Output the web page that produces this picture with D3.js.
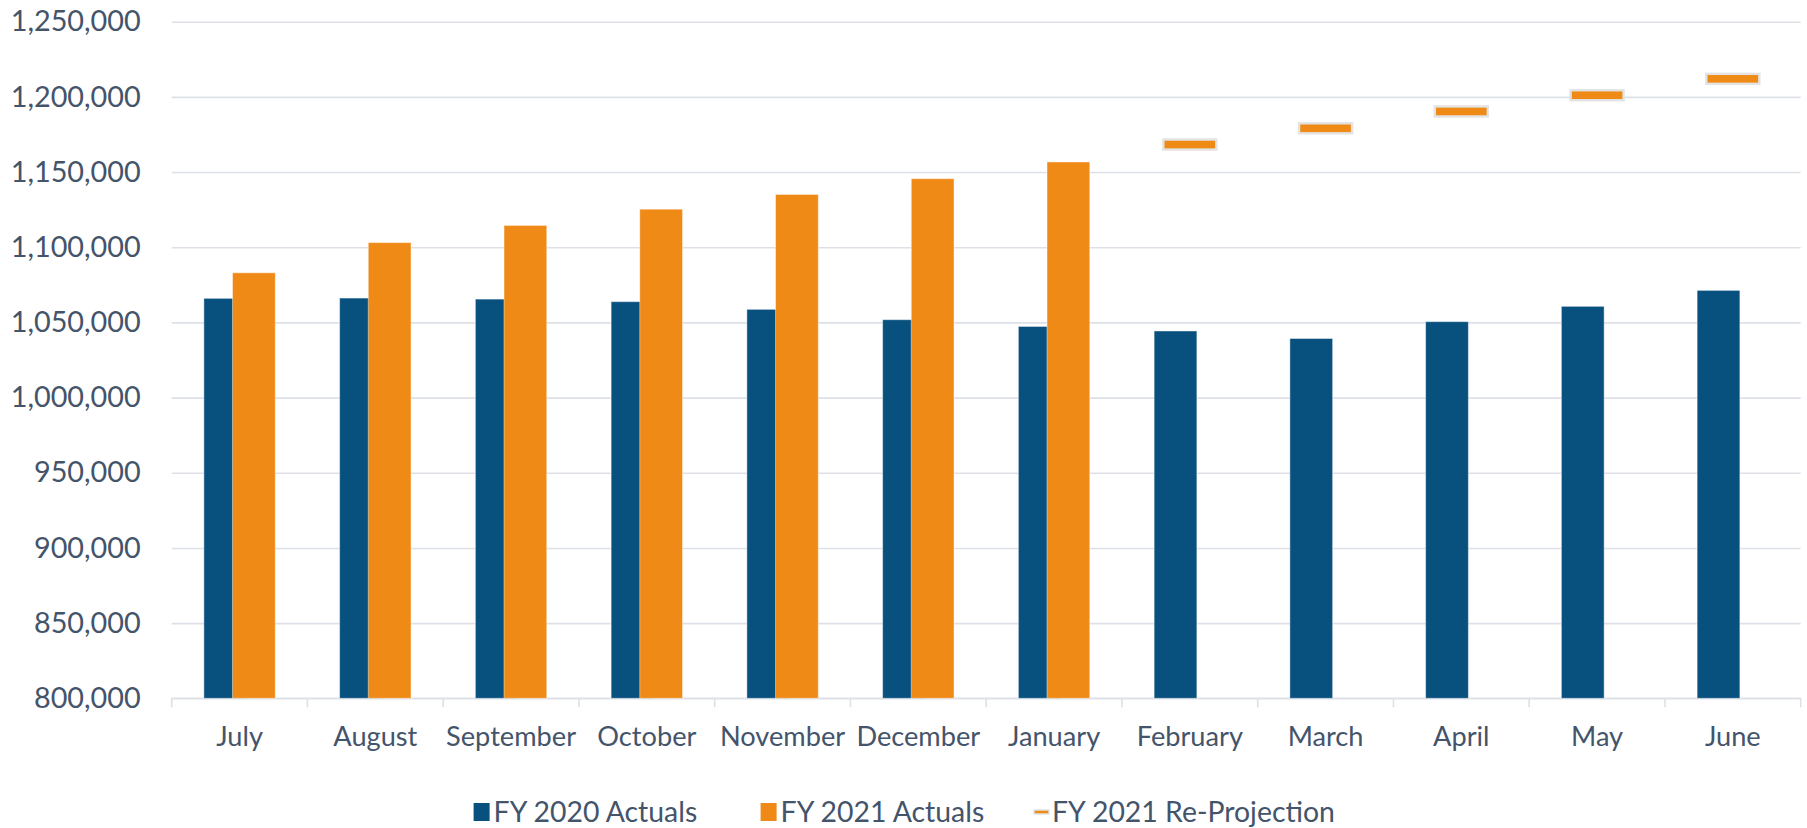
<!DOCTYPE html>
<html>
<head>
<meta charset="utf-8">
<script src="https://cdn.jsdelivr.net/npm/d3@7"></script>
<style>
  body { margin: 0; background: #ffffff; }
  svg text { font-family: Lato, "Open Sans", sans-serif; fill: #44546a; }
</style>
</head>
<body>
<svg id="chart" width="1807" height="828"></svg>
<script>
// Monthly values, fiscal year July–June
const months = ["July", "August", "September", "October", "November", "December",
                "January", "February", "March", "April", "May", "June"];
const fy2020Actuals = [1066000, 1066200, 1065500, 1063800, 1058700, 1051800,
                       1047300, 1044300, 1039300, 1050500, 1060700, 1071300];
const fy2021Actuals = [1083000, 1103100, 1114500, 1125300, 1135100, 1145600,
                       1156700, null, null, null, null, null];
const fy2021Reprojection = [null, null, null, null, null, null,
                            null, 1168300, 1179100, 1190300, 1201100, 1212000];
const yTickValues = [800000, 850000, 900000, 950000, 1000000, 1050000,
                     1100000, 1150000, 1200000, 1250000];
const legendLabels = ["FY 2020 Actuals", "FY 2021 Actuals", "FY 2021 Re-Projection"];

const COLOR_BLUE = "#08507e";
const COLOR_ORANGE = "#ef8a17";
const GRID = "#dde1e7";
const Y_FONT = 28.8;
const X_FONT = 27.2;
const LEGEND_FONT = 28.4;

const svg = d3.select("#chart");
const plotLeft = 171.7, plotRight = 1800.7, plotTop = 21.7, plotBottom = 698.3;

const x = d3.scaleBand().domain(months).range([plotLeft, plotRight]).padding(0);
const y = d3.scaleLinear().domain([800000, 1250000]).range([plotBottom, plotTop]);

// Gridlines and y labels
const yAxis = d3.axisLeft(y)
  .tickValues(yTickValues)
  .tickFormat(d3.format(","))
  .tickSizeInner(-(plotRight - plotLeft))
  .tickSizeOuter(0)
  .tickPadding(31);

const gy = svg.append("g")
  .attr("transform", `translate(${plotLeft},0)`)
  .call(yAxis);
gy.select(".domain").remove();
gy.selectAll(".tick line").attr("stroke", GRID).attr("stroke-width", 1.6);
gy.selectAll(".tick text")
  .attr("font-size", Y_FONT)
  .attr("fill", "#44546a")
  .style("font-family", "Lato, 'Open Sans', sans-serif");

// Category axis: labels centred in each band, tick marks on band edges
const xAxis = d3.axisBottom(x).tickSize(0).tickPadding(28);
const gx = svg.append("g")
  .attr("transform", `translate(0,${plotBottom})`)
  .call(xAxis);
gx.select(".domain").remove();
gx.selectAll(".tick text")
  .attr("font-size", X_FONT)
  .attr("fill", "#44546a")
  .style("font-family", "Lato, 'Open Sans', sans-serif");

const edges = months.map(m => x(m)).concat([x(months[months.length - 1]) + x.bandwidth()]);
svg.append("g").selectAll("line")
  .data(edges)
  .join("line")
  .attr("x1", d => d).attr("x2", d => d)
  .attr("y1", plotBottom).attr("y2", plotBottom + 9)
  .attr("stroke", GRID).attr("stroke-width", 1.6);
svg.append("line")
  .attr("x1", plotLeft).attr("x2", plotRight)
  .attr("y1", plotBottom).attr("y2", plotBottom)
  .attr("stroke", GRID).attr("stroke-width", 1.6);

// Clustered bars: the FY 2021 bar overlaps the FY 2020 bar by a third
const bw = x.bandwidth();
const barW = bw * 0.315;
const shift = barW * 0.67;
const groupW = barW + shift;
const blueX = m => x(m) + (bw - groupW) / 2;
const orangeX = m => blueX(m) + shift;

svg.append("g").selectAll("rect")
  .data(months.map((m, i) => ({ m, v: fy2020Actuals[i] })))
  .join("rect")
  .attr("x", d => blueX(d.m))
  .attr("y", d => y(d.v))
  .attr("width", barW)
  .attr("height", d => plotBottom - y(d.v))
  .attr("fill", COLOR_BLUE)
  .attr("stroke", "rgba(255,255,255,0.45)")
  .attr("stroke-width", 1);

svg.append("g").selectAll("rect")
  .data(months.map((m, i) => ({ m, v: fy2021Actuals[i] })).filter(d => d.v != null))
  .join("rect")
  .attr("x", d => orangeX(d.m))
  .attr("y", d => y(d.v))
  .attr("width", barW)
  .attr("height", d => plotBottom - y(d.v))
  .attr("fill", COLOR_ORANGE)
  .attr("stroke", "rgba(255,255,255,0.45)")
  .attr("stroke-width", 1);

// Re-projection dash markers, centred in each band
const dashW = 53, dashH = 10;
svg.append("g").selectAll("rect")
  .data(months.map((m, i) => ({ m, v: fy2021Reprojection[i] })).filter(d => d.v != null))
  .join("rect")
  .attr("x", d => x(d.m) + bw / 2 - dashW / 2)
  .attr("y", d => y(d.v) - dashH / 2)
  .attr("width", dashW)
  .attr("height", dashH)
  .attr("fill", COLOR_ORANGE)
  .attr("stroke", "#e3e3e3")
  .attr("stroke-width", 2.4);

// Legend: one entry per series, symbol followed by its label
const legendY = 812;
const legendX = [473.6, 760.6, 1032];
const items = svg.append("g").selectAll("g")
  .data(legendLabels)
  .join("g")
  .attr("transform", (d, i) => `translate(${legendX[i]},0)`);
items.append("text")
  .attr("x", 20)
  .attr("y", legendY)
  .attr("dy", "0.35em")
  .attr("font-size", LEGEND_FONT)
  .text(d => d);
items.each(function (d, i) {
  const g = d3.select(this);
  if (i < 2) {
    g.append("rect")
      .attr("x", 0).attr("y", legendY - 9)
      .attr("width", 16).attr("height", 18)
      .attr("fill", i === 0 ? COLOR_BLUE : COLOR_ORANGE);
  } else {
    g.append("rect")
      .attr("x", 2).attr("y", legendY - 2)
      .attr("width", 15).attr("height", 4)
      .attr("fill", COLOR_ORANGE)
      .attr("stroke", "#e3e3e3")
      .attr("stroke-width", 1.5);
  }
});
</script>
</body>
</html>
